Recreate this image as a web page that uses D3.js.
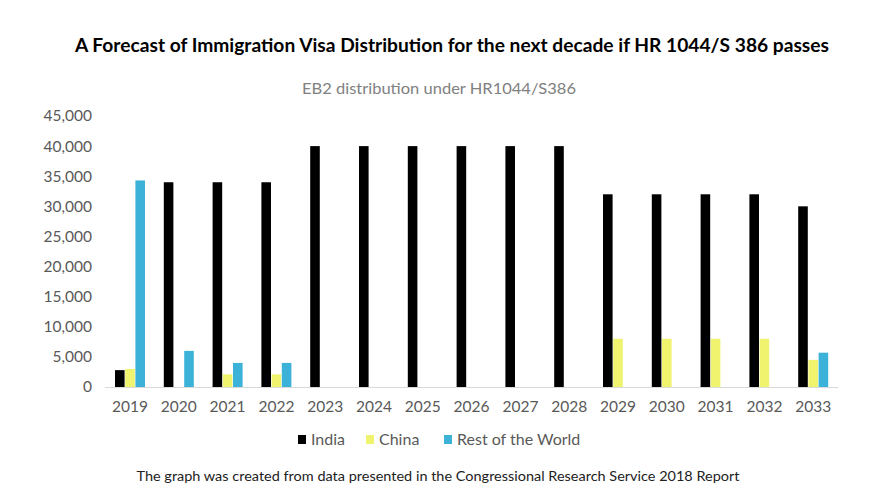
<!DOCTYPE html>
<html><head><meta charset="utf-8">
<script src="https://cdn.jsdelivr.net/npm/d3@7"></script>
<style>body{margin:0;background:#fff;} svg{display:block;font-family:Lato, "Open Sans", sans-serif;}</style>
</head><body><svg id="c" width="876" height="494"></svg>
<script>
const years = ["2019","2020","2021","2022","2023","2024","2025","2026","2027","2028","2029","2030","2031","2032","2033"];
const india = [2800,34000,34000,34000,40000,40000,40000,40000,40000,40000,32000,32000,32000,32000,30000];
const china = [3000,0,2100,2100,0,0,0,0,0,0,8000,8000,8000,8000,4500];
const rotw  = [34300,6000,4000,4000,0,0,0,0,0,0,0,0,0,0,5700];
const seriesNames = ["India","China","Rest of the World"];
const yTicks = [0,5000,10000,15000,20000,25000,30000,35000,40000,45000];
const colors = ["#000000","#f0f36e","#3cb2d9"];

const svg = d3.select("#c");
svg.append("rect").attr("width",876).attr("height",494).attr("fill","#fff");

const x = d3.scaleBand().domain(years).range([105.6, 837.6]).padding(0);
const sub = d3.scaleBand().domain(seriesNames).range([-15, 15]).paddingInner(0.06);
const y = d3.scaleLinear().domain([0,45000]).range([387,116]);

const data = [india, china, rotw];

// baseline
svg.append("line").attr("x1",105).attr("x2",838).attr("y1",y(0)+0.5).attr("y2",y(0)+0.5)
  .attr("stroke","#d9d9d9").attr("stroke-width",1);

// bars
seriesNames.forEach((s,si)=>{
  svg.append("g").selectAll("rect").data(years).join("rect")
    .attr("x", d=> x(d)+x.bandwidth()/2 + sub(s))
    .attr("width", sub.bandwidth())
    .attr("y", (d,i)=> y(data[si][i]))
    .attr("height", (d,i)=> y(0)-y(data[si][i]))
    .attr("fill", colors[si]);
});

// y axis
const yAxis = d3.axisLeft(y).tickValues(yTicks).tickFormat(d3.format(",")).tickSize(0).tickPadding(0);
const gy = svg.append("g").attr("transform","translate(92,0)").call(yAxis);
gy.select(".domain").remove();
gy.selectAll("text").attr("fill","#595959").style("font-size","15.5px").style("font-family","Lato, sans-serif");

// x axis
const xAxis = d3.axisBottom(x).tickSize(0).tickPadding(0);
const gx = svg.append("g").attr("transform","translate(0,401)").call(xAxis);
gx.select(".domain").remove();
gx.selectAll("text").attr("fill","#595959").style("font-size","15.5px").style("font-family","Lato, sans-serif");

// title
svg.append("text").attr("x",452).attr("y",52).attr("text-anchor","middle")
  .attr("font-weight","bold").attr("font-size","18px").attr("fill","#000")
  .attr("textLength",754).attr("lengthAdjust","spacingAndGlyphs")
  .text("A Forecast of Immigration Visa Distribution for the next decade if HR 1044/S 386 passes");
svg.append("text").attr("x",439).attr("y",94).attr("text-anchor","middle")
  .attr("font-size","16px").attr("fill","#808080")
  .attr("textLength",274).attr("lengthAdjust","spacingAndGlyphs")
  .text("EB2 distribution under HR1044/S386");

// legend
const legX = [298, 366, 444];
const lg = svg.append("g");
seriesNames.forEach((s,i)=>{
  lg.append("rect").attr("x",legX[i]).attr("y",435).attr("width",8).attr("height",9).attr("fill",colors[i]);
  lg.append("text").attr("x",legX[i]+13).attr("y",445).attr("font-size","16px").attr("fill","#595959").text(s);
});

// footnote
svg.append("text").attr("x",438).attr("y",481).attr("text-anchor","middle")
  .attr("font-size","13.5px").attr("fill","#222")
  .attr("textLength",603).attr("lengthAdjust","spacingAndGlyphs")
  .text("The graph was created from data presented in the Congressional Research Service 2018 Report");
</script></body></html>
